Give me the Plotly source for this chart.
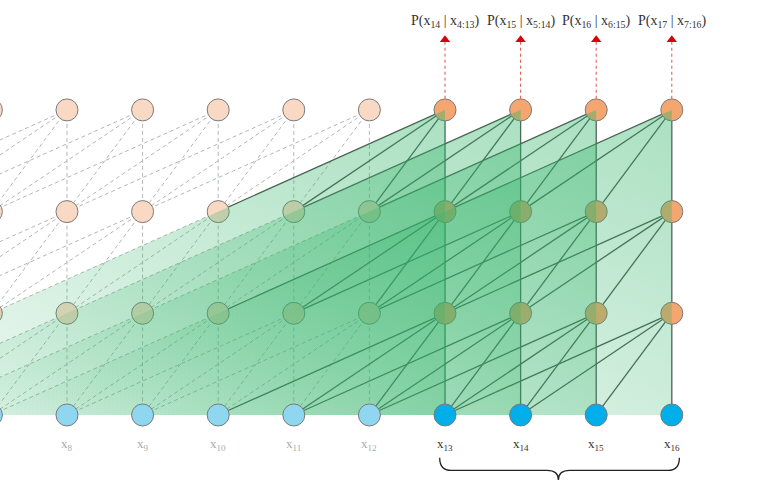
import plotly.graph_objects as go

# ---- data ----
positions = list(range(1, 17))          # token positions x1..x16
segment = [13, 14, 15, 16]              # current (evaluated) positions
n_layers = 4                            # layer 0 = input, layer 3 = output
span = 4                                # each node attends to i-3..i in the layer below
label_positions = [8, 9, 10, 11, 12, 13, 14, 15, 16]
bottom_labels = ["x<sub>%d</sub>" % p for p in label_positions]
pred_labels = ["P(x<sub>14</sub> | x<sub>4:13</sub>)", "P(x<sub>15</sub> | x<sub>5:14</sub>)",
               "P(x<sub>16</sub> | x<sub>6:15</sub>)", "P(x<sub>17</sub> | x<sub>7:16</sub>)"]

fig = go.Figure()

# dashed (memory) edges and solid (current) edges
dx, dy, sx, sy = [], [], [], []
for u in positions:
    for layer in range(1, n_layers):
        for k in range(span):
            lo = u - k
            if u in segment:
                sx += [u, lo, None]; sy += [layer, layer - 1, None]
            else:
                dx += [u, lo, None]; dy += [layer, layer - 1, None]
fig.add_trace(go.Scatter(x=dx, y=dy, mode="lines",
                         line=dict(color="#b3b8b5", width=1, dash="4px,3px"),
                         hoverinfo="skip", showlegend=False))
fig.add_trace(go.Scatter(x=sx, y=sy, mode="lines",
                         line=dict(color="#4d5650", width=1.3),
                         hoverinfo="skip", showlegend=False))


def add_nodes(layer):
    cols = []
    for p in positions:
        cur = p in segment
        if layer == 0:
            cols.append("#00aee9" if cur else "#8fd6f0")
        else:
            cols.append("#f3a670" if cur else "#f9d9c3")
    fig.add_trace(go.Scatter(x=positions, y=[layer] * len(positions), mode="markers",
                             marker=dict(size=22, color=cols,
                                         line=dict(color="#7a7a7a", width=1)),
                             hoverinfo="skip", showlegend=False))


# hidden/output nodes (under the green cones)
for layer in range(1, n_layers):
    add_nodes(layer)

# green receptive-field cones (drawn over nodes/edges)
top = n_layers - 1
for t in segment:
    cx = [t] + [t - (span - 1) * (top - l) for l in range(top - 1, -1, -1)] + [t, t]
    cy = [top] + [l for l in range(top - 1, -1, -1)] + [0, top]
    fig.add_trace(go.Scatter(x=cx, y=cy, mode="lines", fill="toself",
                             line=dict(width=0),
                             fillgradient=dict(type="vertical",
                                               colorscale=[[0, "rgba(50,180,105,0.02)"],
                                                           [1, "rgba(50,180,105,0.24)"]],
                                               start=0, stop=top),
                             hoverinfo="skip", showlegend=False))
    fig.add_trace(go.Scatter(x=cx, y=cy, mode="lines", fill="toself",
                             line=dict(width=0),
                             fillgradient=dict(type="horizontal",
                                               colorscale=[[0, "rgba(50,180,105,0.0)"],
                                                           [1, "rgba(50,180,105,0.22)"]],
                                               start=t - (span - 1) * top, stop=t),
                             hoverinfo="skip", showlegend=False))

# input nodes on top
add_nodes(0)

# prediction arrows and labels
y_arrow0, y_arrow1, y_label = top + 0.11, top + 0.67, top + 0.865
for t, lab in zip(segment, pred_labels):
    fig.add_trace(go.Scatter(x=[t, t], y=[y_arrow0, y_arrow1], mode="lines",
                             line=dict(color="#e0504a", width=1, dash="dot"),
                             hoverinfo="skip", showlegend=False))
    fig.add_trace(go.Scatter(x=[t], y=[y_arrow1 + 0.02], mode="markers",
                             marker=dict(symbol="triangle-up", size=9, color="#d8000c"),
                             hoverinfo="skip", showlegend=False))
    fig.add_annotation(x=t, y=y_label, text=lab, showarrow=False,
                       font=dict(family="Liberation Serif", size=14, color="#333333"))

for p, lab in zip(label_positions, bottom_labels):
    fig.add_annotation(x=p, y=-0.295, text=lab, showarrow=False,
                       font=dict(family="Liberation Serif", size=13,
                                 color="#333333" if p in segment else "#aaaaaa"))

# brace under the current segment
x0, x1 = segment[0] - 0.07, segment[-1] + 0.1
xc = (segment[0] + segment[-1]) / 2
ya, yb, yc = -0.42, -0.545, -0.64
d = 0.15
path = (f"M {x0},{ya} Q {x0},{yb} {x0+d},{yb} L {xc-d},{yb} Q {xc},{yb} {xc},{yc} "
        f"Q {xc},{yb} {xc+d},{yb} L {x1-d},{yb} Q {x1},{yb} {x1},{ya}")
fig.add_shape(type="path", path=path, xref="x", yref="y",
              line=dict(color="#222222", width=1.3))

fig.update_layout(width=775, height=483, margin=dict(l=0, r=0, t=0, b=0),
                  paper_bgcolor="white", plot_bgcolor="white")
fig.update_xaxes(range=[7.114, 17.365], visible=False)
fig.update_yaxes(range=[-0.669, 4.081], visible=False)
fig.write_html("out.html", config={"displayModeBar": False},
               post_script="document.body.style.margin='0';document.body.style.overflow='hidden';")
